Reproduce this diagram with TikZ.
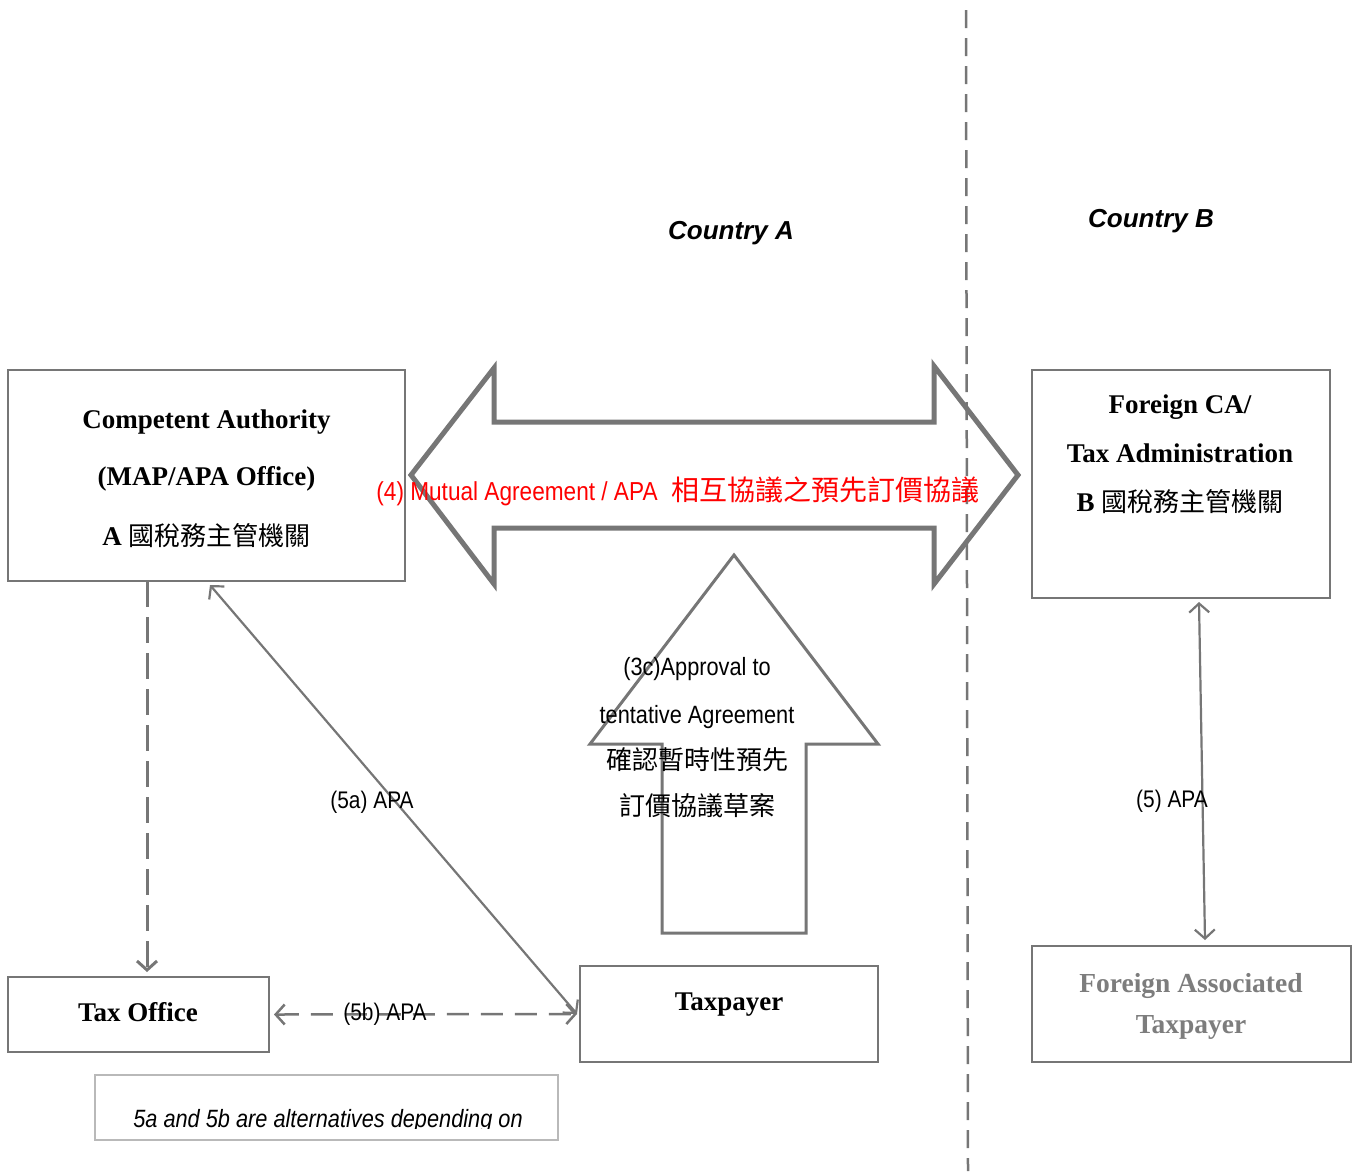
\documentclass[tikz,border=0pt]{standalone}
\usepackage{fontspec}
\setmainfont{Liberation Serif}
\newfontfamily\cjk{Noto Sans CJK TC}
\newfontfamily\narrow[FakeStretch=0.87]{Liberation Sans}
\newfontfamily\hsans{Liberation Sans}
\usetikzlibrary{arrows.meta,calc}
\definecolor{lg}{RGB}{118,118,118}
\definecolor{lg2}{RGB}{185,185,185}
\definecolor{fg}{RGB}{125,125,125}
\definecolor{rd}{RGB}{255,0,0}
\begin{document}
\begin{tikzpicture}[x=1pt,y=-1pt,
  box/.style={draw=lg, line width=2pt, inner sep=0pt, outer sep=0pt, fill=white},
  ser/.style={inner sep=0pt, anchor=base, font=\fontsize{27}{30}\selectfont\bfseries},
  nar/.style={inner sep=0pt, anchor=base, font=\fontsize{25}{30}\selectfont\narrow},
  lab/.style={inner sep=0pt, anchor=base, font=\fontsize{24}{28}\selectfont\narrow},
  conn/.style={draw=lg, line width=2.2pt, {Straight Barb[length=9pt,width=20pt]}-{Straight Barb[length=9pt,width=20pt]}},
  bigarrow/.style={draw=lg, fill=white, line join=miter}
]
\useasboundingbox (0,0) rectangle (1360,1171);

% big double arrow
\draw[bigarrow, line width=5pt] (411,475) -- (494,368) -- (494,422) -- (934,422) -- (934,366)
  -- (1018,475) -- (934,584) -- (934,528) -- (494,528) -- (494,584) -- cycle;
% up arrow
\draw[bigarrow, line width=3pt] (734,555) -- (878,744) -- (806,744) -- (806,933) -- (662,933)
  -- (662,744) -- (590,744) -- cycle;

% boxes
\node[box, minimum width=397pt, minimum height=211pt] (ca) at (206.5,475.5) {};
\node[box, minimum width=298pt, minimum height=228pt] (fca) at (1181,484) {};
\node[box, minimum width=261pt, minimum height=75pt] (tax) at (138.5,1014.5) {};
\node[box, minimum width=298pt, minimum height=96pt] (tp) at (729,1014) {};
\node[box, minimum width=319pt, minimum height=116pt] (fat) at (1191.5,1004) {};
\node[box, draw=lg2, minimum width=463pt, minimum height=65pt] (note) at (326.5,1107.5) {};

% country divider
\draw[lg, line width=2.5pt, dash pattern=on 18pt off 10pt] (966,10) -- (968,1171);

% connectors
\draw[draw=lg, line width=3pt, dash pattern=on 26pt off 10pt, -{Straight Barb[length=9pt,width=20pt]}]
  ($(ca.south west)+(139,0)$) -- ($(tax.north west)+(139,-5)$);
\draw[conn] ($(ca.south west)+(202,4)$) -- ($(tp.west)+(-3,0)$);
\draw[conn, line width=2.5pt, dash pattern=on 22pt off 12pt] ($(tax.east)+(5,0)$) -- ($(tp.west)+(-3,0)$);
\draw[conn] ($(fca.south west)+(167,4)$) -- ($(fat.north west)+(173,-6)$);

% texts
\node[inner sep=0pt, anchor=base, font=\fontsize{26}{30}\selectfont\hsans\bfseries\itshape] (ctA) at (731,239) {Country A};
\node[inner sep=0pt, anchor=base, font=\fontsize{26}{30}\selectfont\hsans\bfseries\itshape] (ctB) at (1151,227) {Country B};

\node[ser] (ca1) at (206.5,428) {Competent Authority};
\node[ser] (ca2) at (206.5,485) {(MAP/APA Office)};
\node[ser] (ca3) at (206.5,545) {A {\mdseries\cjk\fontsize{26}{30}\selectfont 國稅務主管機關}};

\node[ser] (fc1) at (1180,413) {Foreign CA/};
\node[ser] (fc2) at (1180,462) {Tax Administration};
\node[ser] (fc3) at (1180,511) {B {\mdseries\cjk\fontsize{26}{30}\selectfont 國稅務主管機關}};

\node[ser] (tx) at (138,1021) {Tax Office};
\node[ser] (tpx) at (729,1010) {Taxpayer};
\node[ser, text=fg, font=\fontsize{27.5}{30}\selectfont\bfseries] (fa1) at (1191,992) {Foreign Associated};
\node[ser, text=fg, font=\fontsize{27.5}{30}\selectfont\bfseries] (fa2) at (1191,1033) {Taxpayer};

\node[inner sep=0pt, anchor=base, text=rd, font=\fontsize{26}{30}\selectfont] (mut) at (678,500)
  {{\narrow (4) Mutual Agreement / APA}\hspace{14pt}{\cjk\fontsize{28}{30}\selectfont 相互協議之預先訂價協議}};

\node[nar] (ap1) at (697,675) {(3c)Approval to};
\node[nar] (ap2) at (697,723) {tentative Agreement};
\node[nar, font=\fontsize{26}{30}\selectfont\cjk] (ap3) at (697,769) {確認暫時性預先};
\node[nar, font=\fontsize{26}{30}\selectfont\cjk] (ap4) at (697,815) {訂價協議草案};

\node[lab] (l5a) at (372,808) {(5a) APA};
\node[lab] (l5b) at (385,1020) {(5b) APA};
\node[lab] (l5) at (1172,807) {(5) APA};

\begin{scope}
\clip (96,1076) rectangle (557,1128);
\node[nar, font=\fontsize{25}{30}\selectfont\narrow\itshape] (nt) at (328,1127) {5a and 5b are alternatives depending on};
\end{scope}
\end{tikzpicture}
\end{document}
